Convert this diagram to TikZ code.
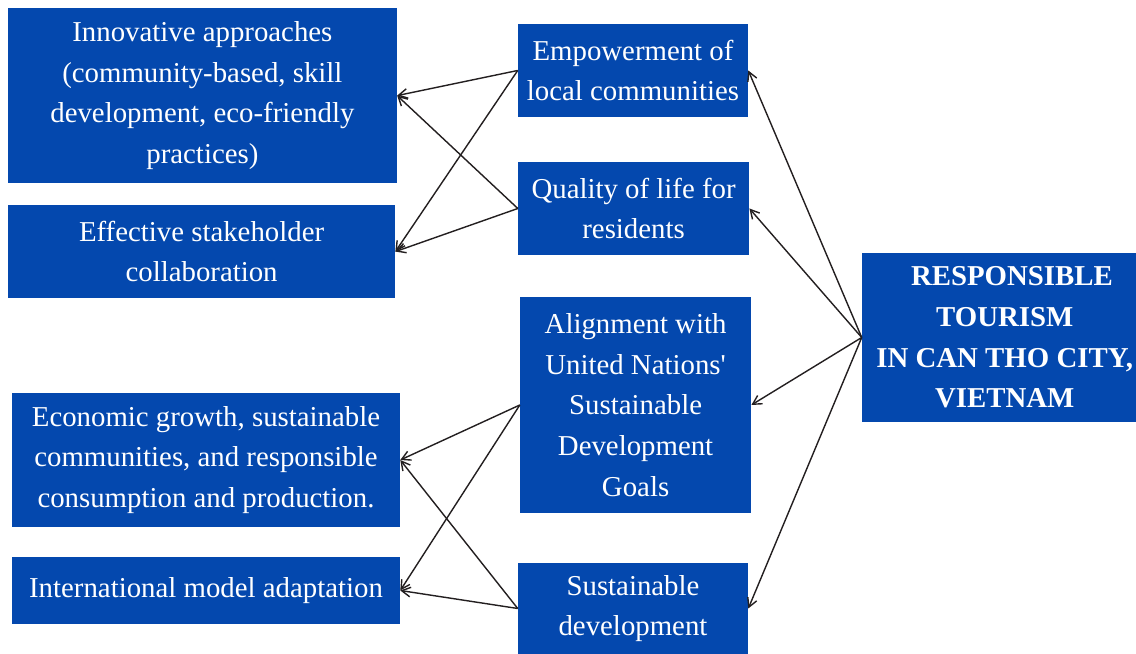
\documentclass[tikz,border=0pt]{standalone}
\usepackage{fontspec}
\setmainfont{Liberation Serif}
\usetikzlibrary{arrows.meta}
\definecolor{boxblue}{RGB}{4,72,174}
\definecolor{linkgray}{RGB}{35,31,32}

\begin{document}
\begin{tikzpicture}[
    box/.style={rectangle, fill=boxblue, text=white, inner sep=0pt, align=center,
                font=\fontsize{20.5}{29}\selectfont},
    hubbox/.style={box, font=\fontsize{20.5}{29}\selectfont\bfseries},
    link/.style={draw=linkgray, line width=1pt, -{Straight Barb[length=2.2mm, width=2.4mm]}}
]
\useasboundingbox (0,0) rectangle (28.4,16.35);

%  -- Left column: outcomes  --
\node[box, minimum width=9.725cm, minimum height=4.375cm] (innov) at (5.06, 13.96)
  {Innovative approaches\\(community-based, skill\\development, eco-friendly\\practices)};
\node[box, minimum width=9.675cm, minimum height=2.325cm] (stake) at (5.04, 10.06)
  {Effective stakeholder\\collaboration};
\node[box, minimum width=9.7cm, minimum height=3.35cm] (econ) at (5.15, 4.85)
  {Economic growth, sustainable\\communities, and responsible\\consumption and production.};
\node[box, minimum width=9.7cm, minimum height=1.675cm] (intl) at (5.15, 1.5875)
  {International model adaptation};

%  -- Middle column: dimensions  --
\node[box, minimum width=5.75cm, minimum height=2.325cm] (empow) at (15.825, 14.5875)
  {Empowerment of\\local communities};
\node[box, minimum width=5.775cm, minimum height=2.325cm] (qual) at (15.84, 11.1375)
  {Quality of life for\\residents};
\node[box, minimum width=5.775cm, minimum height=5.4cm] (sdg) at (15.89, 6.225)
  {Alignment with\\United Nations\textquotesingle\\Sustainable\\Development\\Goals};
\node[box, minimum width=5.75cm, minimum height=2.275cm] (sust) at (15.825, 1.1375)
  {Sustainable\\development};

%  -- Right: central topic  --
\node[hubbox, minimum width=6.85cm, minimum height=4.225cm] (hub) at (24.975, 7.9125)
  {\hspace*{0.9em}RESPONSIBLE\\\hspace*{0.4em}TOURISM\\\hspace*{0.4em}IN CAN THO CITY,\\\hspace*{0.4em}VIETNAM};

%  -- Connectors  --
\foreach \m in {empow, qual, sdg, sust}
  \draw[link] (hub.west) -- (\m.east);
\foreach \m in {empow, qual} {
  \draw[link] (\m.west) -- (innov.east);
  \draw[link] (\m.west) -- (stake.east);
}
\foreach \m in {sdg, sust} {
  \draw[link] (\m.west) -- (econ.east);
  \draw[link] (\m.west) -- (intl.east);
}

\end{tikzpicture}
\end{document}
